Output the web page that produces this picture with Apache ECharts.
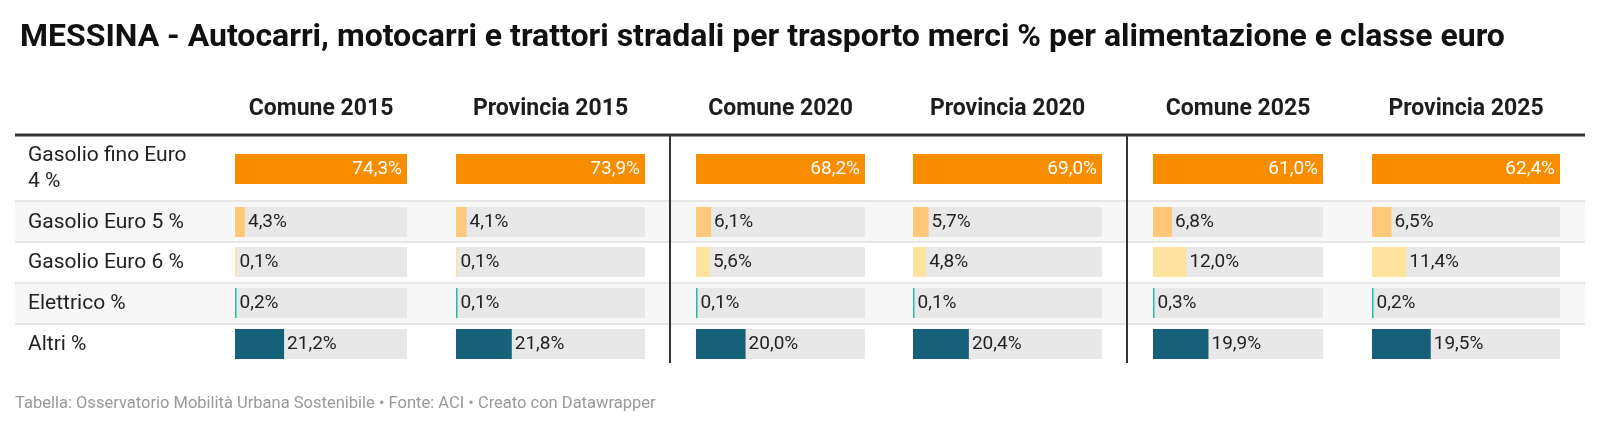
<!DOCTYPE html>
<html lang="it" style="height: 100%">
<head>
  <meta charset="utf-8">
</head>
<body style="height: 100%; margin: 0; background: #fff">
  <div id="container" style="height:100%"></div>
  <script type="text/javascript" src="https://fastly.jsdelivr.net/npm/echarts@6/dist/echarts.min.js"></script>
  <script type="text/javascript">
    var dom = document.getElementById('container');
    var myChart = echarts.init(dom, null, { renderer: 'canvas' });
    var option;

    var righe = ['Gasolio fino Euro\n4 %', 'Gasolio Euro 5 %', 'Gasolio Euro 6 %', 'Elettrico %', 'Altri %'];
    var colori = ['#f98d00', '#fdc878', '#fee39e', '#1fbfa0', '#16607a'];
    var colonne = [
      { nome: 'Comune 2015',    x: [235, 407],  dati: [74.3, 4.3, 0.1, 0.2, 21.2] },
      { nome: 'Provincia 2015', x: [456, 645],  dati: [73.9, 4.1, 0.1, 0.1, 21.8] },
      { nome: 'Comune 2020',    x: [696, 865],  dati: [68.2, 6.1, 5.6, 0.1, 20.0] },
      { nome: 'Provincia 2020', x: [913, 1102], dati: [69.0, 5.7, 4.8, 0.1, 20.4] },
      { nome: 'Comune 2025',    x: [1153, 1323], dati: [61.0, 6.8, 12.0, 0.3, 19.9] },
      { nome: 'Provincia 2025', x: [1372, 1560], dati: [62.4, 6.5, 11.4, 0.2, 19.5] }
    ];
    // bordi delle righe (y) e top delle barre
    var bordi = [135, 201, 242, 283, 324, 365];
    var barTop = [154, 207, 247, 288, 329];

    var grid = [], xAxis = [], yAxis = [], series = [], graphic = [];

    // sfondi righe alterne e separatori
    [1, 3].forEach(function (r) {
      graphic.push({ type: 'rect', z: -10, shape: { x: 15, y: bordi[r], width: 1570, height: bordi[r + 1] - bordi[r] }, style: { fill: '#f7f7f7' } });
    });
    for (var r = 1; r < 5; r++) {
      graphic.push({ type: 'line', z: -5, shape: { x1: 15, y1: bordi[r], x2: 1585, y2: bordi[r] }, style: { stroke: '#e6e6e6', lineWidth: 2 } });
    }
    graphic.push({ type: 'line', shape: { x1: 15, y1: 135, x2: 1585, y2: 135 }, style: { stroke: '#333', lineWidth: 3 } });
    [670, 1127].forEach(function (x) {
      graphic.push({ type: 'line', shape: { x1: x, y1: 135, x2: x, y2: 363 }, style: { stroke: '#333', lineWidth: 2 } });
    });
    righe.forEach(function (nome, r) {
      graphic.push({
        type: 'text', left: 28, top: r === 0 ? 143 : barTop[r] + 3,
        style: { text: nome, fontSize: 21, fill: '#222', fontFamily: 'Roboto', lineHeight: 26 }
      });
    });

    colonne.forEach(function (col, c) {
      var max = Math.max.apply(null, col.dati);
      graphic.push({
        type: 'text', x: (col.x[0] + col.x[1]) / 2, y: 109,
        style: { text: col.nome, fontSize: 23, fontWeight: 'bold', fill: '#1d1d1d', fontFamily: 'Roboto', align: 'center', verticalAlign: 'middle' }
      });
      col.dati.forEach(function (v, r) {
        var i = grid.length;
        grid.push({ left: col.x[0], top: barTop[r], width: col.x[1] - col.x[0], height: 30 });
        xAxis.push({ gridIndex: i, type: 'value', min: 0, max: max, show: false });
        yAxis.push({ gridIndex: i, type: 'category', data: [righe[r]], show: false });
        series.push({
          type: 'bar', xAxisIndex: i, yAxisIndex: i,
          data: [v], barWidth: 30, barMinHeight: 1.5,
          itemStyle: { color: colori[r] },
          showBackground: r > 0,
          backgroundStyle: { color: '#e8e8e8' },
          silent: true,
          label: {
            show: true,
            position: r === 0 ? 'insideRight' : 'right',
            distance: r === 0 ? 5 : 3,
            color: r === 0 ? '#fff' : '#222',
            fontSize: 19, fontFamily: 'Roboto',
            formatter: function (p) { return p.value.toFixed(1).replace('.', ',') + '%'; }
          }
        });
      });
    });

    option = {
      animation: false,
      title: {
        text: 'MESSINA - Autocarri, motocarri e trattori stradali per trasporto merci % per alimentazione e classe euro',
        left: 15, top: 17,
        textStyle: { fontSize: 32, fontWeight: 'bold', color: '#111', fontFamily: 'Roboto' }
      },
      grid: grid, xAxis: xAxis, yAxis: yAxis, series: series,
      graphic: graphic.concat([{
        type: 'text', left: 15, top: 395,
        style: { text: 'Tabella: Osservatorio Mobilità Urbana Sostenibile • Fonte: ACI • Creato con Datawrapper', fontSize: 16.5, fill: '#999', fontFamily: 'Roboto' }
      }])
    };

    if (option && typeof option === 'object') {
      myChart.setOption(option);
    }
    window.addEventListener('resize', myChart.resize);
  </script>
</body>
</html>
